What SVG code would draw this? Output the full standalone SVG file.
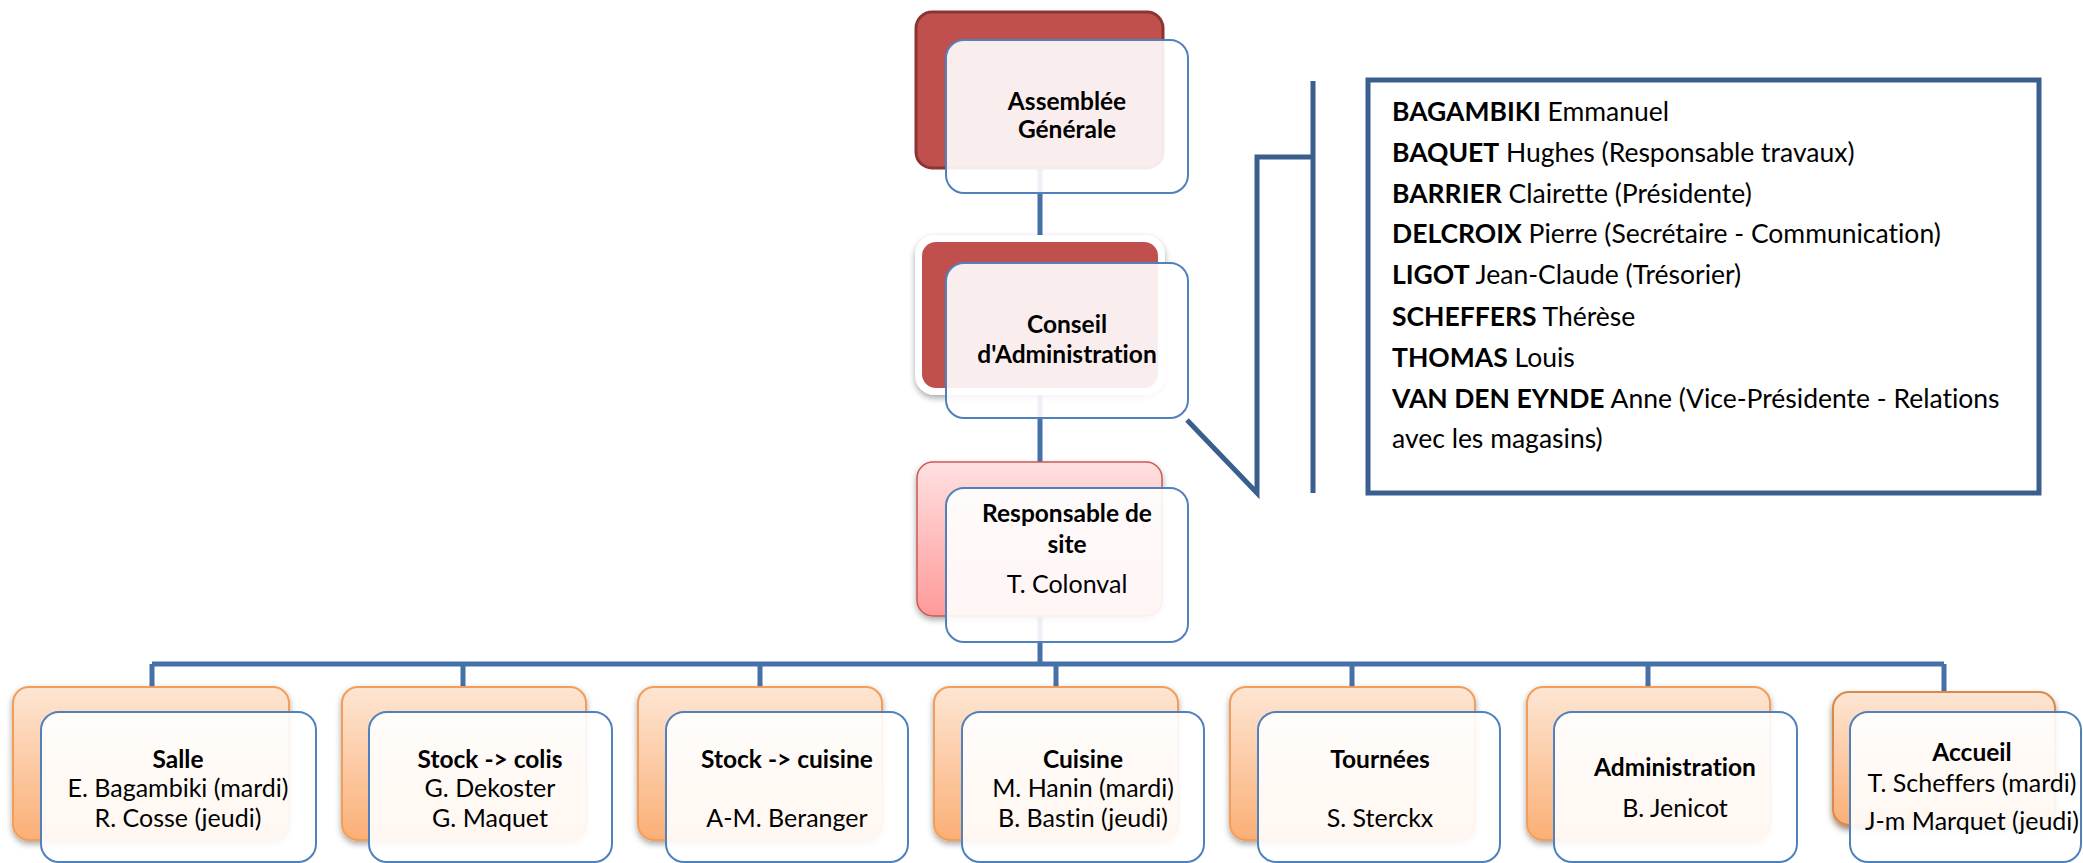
<svg xmlns="http://www.w3.org/2000/svg" width="2083" height="863" viewBox="0 0 2083 863">
<defs>
<linearGradient id="gOr" x1="0" y1="0" x2="0" y2="1">
<stop offset="0" stop-color="#FDE6D4"/>
<stop offset="1" stop-color="#FBAF76"/>
</linearGradient>
<linearGradient id="gPk" x1="0" y1="0" x2="0" y2="1">
<stop offset="0" stop-color="#FFE0E0"/>
<stop offset="1" stop-color="#FF9A9A"/>
</linearGradient>
<filter id="sh" x="-10%" y="-10%" width="120%" height="130%">
<feDropShadow dx="0" dy="3" stdDeviation="3" flood-color="#000" flood-opacity="0.35"/>
</filter>
<filter id="sh2" x="-10%" y="-10%" width="120%" height="130%">
<feDropShadow dx="0" dy="4" stdDeviation="3" flood-color="#5a3a20" flood-opacity="0.6"/>
</filter>
</defs>
<style>
text{font-variant-ligatures:none;font-feature-settings:"liga" 0}
.t{font-family:Lato,"Liberation Sans",sans-serif;font-size:25px;fill:#000;text-anchor:middle}
.b{font-weight:bold;font-size:24.5px}
.lg{font-family:Lato,"Liberation Sans",sans-serif;font-size:26.5px;fill:#000}
.front{fill:#fff;fill-opacity:0.9;stroke:#4F81BD;stroke-width:2}
.orange{fill:url(#gOr);stroke:#F59D56;stroke-width:2;filter:url(#sh)}
.tree{fill:none;stroke:#4571A9;stroke-width:5}
.leg{fill:none;stroke:#3A5F8E;stroke-width:5}
</style>
<rect width="2083" height="863" fill="#fff"/>

<g id="connectors">
<path class="tree" d="M1040,168V242M1040,388V462M1040,616V664M152,664H1944M152,664V687M463,664V687M760,664V687M1056,664V687M1352,664V687M1648,664V687M1944,664V692"/>
<path class="leg" d="M1313,81V493M1313,157H1257V493L1187,420"/>
</g>

<g id="assemblee">
<rect x="916" y="12" width="247" height="156" rx="16" fill="#C0504D" stroke="#8B3533" stroke-width="3"/>
<rect class="front" x="946" y="40" width="242" height="153" rx="18"/>
<text class="t b" x="1067" y="110">Assemblée</text>
<text class="t b" x="1067" y="138">Générale</text>
</g>

<g id="conseil">
<rect x="915" y="235" width="250" height="160" rx="20" fill="#fff" filter="url(#sh)"/>
<rect x="922" y="242" width="236" height="146" rx="14" fill="#C0504D"/>
<rect class="front" x="946" y="263" width="242" height="155" rx="18"/>
<text class="t b" x="1067" y="333">Conseil</text>
<text class="t b" x="1067" y="363">d'Administration</text>
</g>

<g id="responsable">
<rect x="917" y="462" width="245" height="154" rx="16" fill="url(#gPk)" stroke="#C95A57" stroke-width="1.5" filter="url(#sh)"/>
<rect class="front" x="946" y="488" width="242" height="154" rx="18"/>
<text class="t b" x="1067" y="522">Responsable de</text>
<text class="t b" x="1067" y="553">site</text>
<text class="t" x="1067" y="593">T. Colonval</text>
</g>

<g id="membres">
<rect x="1368" y="80" width="671" height="413" fill="#fff" stroke="#3A5F8E" stroke-width="5"/>
<text class="lg" x="1392" y="121"><tspan font-weight="bold">BAGAMBIKI</tspan> Emmanuel</text>
<text class="lg" x="1392" y="162"><tspan font-weight="bold">BAQUET</tspan> Hughes (Responsable travaux)</text>
<text class="lg" x="1392" y="203"><tspan font-weight="bold">BARRIER</tspan> Clairette (Présidente)</text>
<text class="lg" x="1392" y="243"><tspan font-weight="bold">DELCROIX</tspan> Pierre (Secrétaire - Communication)</text>
<text class="lg" x="1392" y="284"><tspan font-weight="bold">LIGOT</tspan> Jean-Claude (Trésorier)</text>
<text class="lg" x="1392" y="326"><tspan font-weight="bold">SCHEFFERS</tspan> Thérèse</text>
<text class="lg" x="1392" y="367"><tspan font-weight="bold">THOMAS</tspan> Louis</text>
<text class="lg" x="1392" y="408"><tspan font-weight="bold">VAN DEN EYNDE</tspan> Anne (Vice-Présidente - Relations</text>
<text class="lg" x="1392" y="448">avec les magasins)</text>
</g>

<g id="salle">
<rect class="orange" x="13" y="687" width="276" height="153" rx="16"/>
<rect class="front" x="41" y="712" width="275" height="150" rx="18"/>
<text class="t b" x="178" y="768">Salle</text>
<text class="t" x="178" y="797">E. Bagambiki (mardi)</text>
<text class="t" x="178" y="827">R. Cosse (jeudi)</text>
</g>

<g id="stock-colis">
<rect class="orange" x="342" y="687" width="244" height="153" rx="16"/>
<rect class="front" x="369" y="712" width="243" height="150" rx="18"/>
<text class="t b" x="490" y="768">Stock -&gt; colis</text>
<text class="t" x="490" y="797">G. Dekoster</text>
<text class="t" x="490" y="827">G. Maquet</text>
</g>

<g id="stock-cuisine">
<rect class="orange" x="638" y="687" width="244" height="153" rx="16"/>
<rect class="front" x="666" y="712" width="242" height="150" rx="18"/>
<text class="t b" x="787" y="768">Stock -&gt; cuisine</text>
<text class="t" x="787" y="827">A-M. Beranger</text>
</g>

<g id="cuisine">
<rect class="orange" x="934" y="687" width="244" height="153" rx="16"/>
<rect class="front" x="962" y="712" width="242" height="150" rx="18"/>
<text class="t b" x="1083" y="768">Cuisine</text>
<text class="t" x="1083" y="797">M. Hanin (mardi)</text>
<text class="t" x="1083" y="827">B. Bastin (jeudi)</text>
</g>

<g id="tournees">
<rect class="orange" x="1230" y="687" width="245" height="153" rx="16"/>
<rect class="front" x="1258" y="712" width="242" height="150" rx="18"/>
<text class="t b" x="1380" y="768">Tournées</text>
<text class="t" x="1380" y="827">S. Sterckx</text>
</g>

<g id="administration">
<rect class="orange" x="1527" y="687" width="243" height="153" rx="16"/>
<rect class="front" x="1554" y="712" width="243" height="150" rx="18"/>
<text class="t b" x="1675" y="776">Administration</text>
<text class="t" x="1675" y="817">B. Jenicot</text>
</g>

<g id="accueil">
<rect x="1833" y="692" width="222" height="133" rx="16" fill="url(#gOr)" stroke="#D9894A" stroke-width="2" filter="url(#sh2)"/>
<rect class="front" x="1850" y="712" width="231" height="150" rx="18"/>
<text class="t b" x="1972" y="761">Accueil</text>
<text class="t" x="1972" y="792">T. Scheffers (mardi)</text>
<text class="t" x="1972" y="830">J-m Marquet (jeudi)</text>
</g>
</svg>
